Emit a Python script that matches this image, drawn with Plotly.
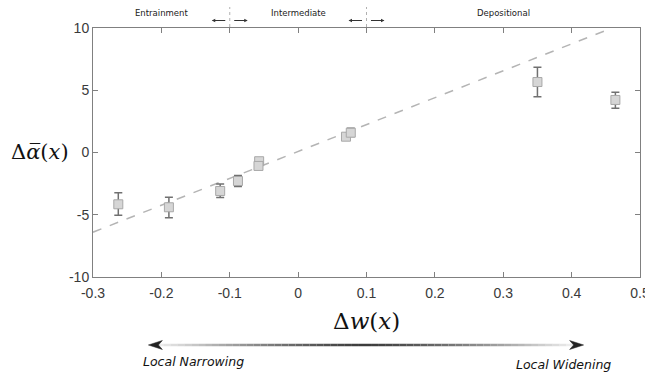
import plotly.graph_objects as go

# ---- data ----
dw = [-0.263, -0.189, -0.114, -0.088, -0.057, -0.058, 0.070, 0.077, 0.350, 0.464]
dalpha = [-4.16, -4.40, -3.09, -2.29, -0.70, -1.08, 1.27, 1.59, 5.66, 4.22]
err_up = [0.93, 0.80, 0.55, 0.45, 0.25, 0.25, 0.20, 0.35, 1.18, 0.62]
err_dn = [0.88, 0.84, 0.52, 0.45, 0.25, 0.25, 0.20, 0.30, 1.18, 0.67]
fit_x = [-0.3, 0.459]
fit_y = [-6.4, 10.0]
x_ticks = [-0.3, -0.2, -0.1, 0, 0.1, 0.2, 0.3, 0.4, 0.5]
x_ticktext = ["-0.3", "-0.2", "-0.1", "0", "0.1", "0.2", "0.3", "0.4", "0.5"]
y_ticks = [-10, -5, 0, 5, 10]
y_ticktext = ["-10", "-5", "0", "5", "10"]
regions = ["Entrainment", "Intermediate", "Depositional"]
region_centers = [-0.2, 0.0, 0.3]
boundaries = [-0.1, 0.1]

W, H = 645, 372
L, R, T, B = 92.5, 640.5, 28, 277


def px(xp):
    return (xp - L) / (R - L)


def py(yp):
    return (B - yp) / (B - T)


fig = go.Figure()
fig.add_trace(go.Scatter(x=fit_x, y=fit_y, mode="lines",
                         line=dict(color="#b4b4b4", width=1.5, dash="dash"),
                         showlegend=False, hoverinfo="skip"))
fig.add_trace(go.Scatter(
    x=dw, y=dalpha, mode="markers",
    marker=dict(symbol="square", size=9, color="#d6d6d6",
                line=dict(color="#a8a8a8", width=1)),
    error_y=dict(type="data", array=err_up, arrayminus=err_dn,
                 color="#707070", thickness=1.5, width=4),
    showlegend=False))

shapes = []
annotations = []

# region labels above plot
for name, c in zip(regions, region_centers):
    annotations.append(dict(x=c, y=py(13.5), xref="x", yref="paper", text=name,
                            xanchor="center", yanchor="middle",
                            showarrow=False, font=dict(family="DejaVu Sans", size=8.5, color="#222")))

# boundary dashed lines and small arrows
for b in boundaries:
    shapes.append(dict(type="line", xref="x", yref="paper", x0=b, x1=b,
                       y0=py(27), y1=py(7), line=dict(color="#b0b0b0", width=1, dash="dot")))
    dx = 1.0 / 685
    annotations.append(dict(x=b - 18 * dx, y=py(20.5), ax=15, ay=0,
                            xref="x", yref="paper", text="",
                            showarrow=True, arrowhead=2, arrowsize=0.7, arrowwidth=1,
                            arrowcolor="#333"))
    annotations.append(dict(x=b + 18 * dx, y=py(20.5), ax=-15, ay=0,
                            xref="x", yref="paper", text="",
                            showarrow=True, arrowhead=2, arrowsize=0.7, arrowwidth=1,
                            arrowcolor="#333"))

# gradient arrow at bottom
x_start, x_end, yb = 156, 574, 345
n = 60
mid = (x_start + x_end) / 2
for i in range(n):
    a = x_start + (x_end - x_start) * i / n
    b2 = x_start + (x_end - x_start) * (i + 1) / n
    c = (a + b2) / 2
    t = abs(c - mid) / (mid - x_start)
    g = int(60 + (240 - 60) * t ** 1.3)
    shapes.append(dict(type="line", xref="paper", yref="paper",
                       x0=px(a), x1=px(b2), y0=py(yb), y1=py(yb),
                       line=dict(color=f"rgb({g},{g},{g})", width=2.5)))


def head(tip, direction):
    d = direction
    pts = [(tip, yb), (tip - d * 14, yb - 4.5), (tip - d * 10, yb), (tip - d * 14, yb + 4.5)]
    path = "M " + " L ".join(f"{px(a):.5f},{py(b):.5f}" for a, b in pts) + " Z"
    return dict(type="path", xref="paper", yref="paper", path=path,
                fillcolor="#222", line=dict(color="#222", width=0.5))


shapes.append(head(148, -1))
shapes.append(head(584, 1))

annotations.append(dict(x=px(141), y=py(361), xref="paper", yref="paper",
                        xanchor="left", yanchor="middle",
                        text="<i>Local Narrowing</i>", showarrow=False,
                        font=dict(family="DejaVu Sans", size=12.5, color="#111")))
annotations.append(dict(x=px(613), y=py(364), xref="paper", yref="paper",
                        xanchor="right", yanchor="middle",
                        text="<i>Local Widening</i>", showarrow=False,
                        font=dict(family="DejaVu Sans", size=12.5, color="#111")))

# axis titles
annotations.append(dict(x=px(366), y=py(321), xref="paper", yref="paper",
                        xanchor="center", yanchor="middle",
                        text="Δ<i>w</i>(<i>x</i>)", showarrow=False,
                        font=dict(family="DejaVu Serif", size=23, color="#111")))
annotations.append(dict(x=px(39), y=py(152), xref="paper", yref="paper",
                        xanchor="center", yanchor="middle",
                        text="Δ<i>α\u0305</i>(<i>x</i>)", showarrow=False,
                        font=dict(family="DejaVu Serif", size=21, color="#111")))

axis_common = dict(showline=True, linecolor="#808080", linewidth=1, mirror="allticks",
                   ticks="inside", ticklen=5, tickcolor="#808080", showgrid=False,
                   zeroline=False, ticklabeloverflow="allow", automargin=False,
                   tickfont=dict(family="Liberation Sans", size=14, color="#3a3a3a"))

fig.update_layout(
    width=W, height=H, margin=dict(l=L, r=W - R, t=T, b=H - B, autoexpand=False),
    plot_bgcolor="white", paper_bgcolor="white",
    xaxis=dict(range=[-0.3, 0.5], tickvals=x_ticks, ticktext=x_ticktext,
               ticklabelstandoff=3, **axis_common),
    yaxis=dict(range=[-10, 10], tickvals=y_ticks, ticktext=y_ticktext, **axis_common),
    shapes=shapes, annotations=annotations,
)

fig.write_html("out.html")
